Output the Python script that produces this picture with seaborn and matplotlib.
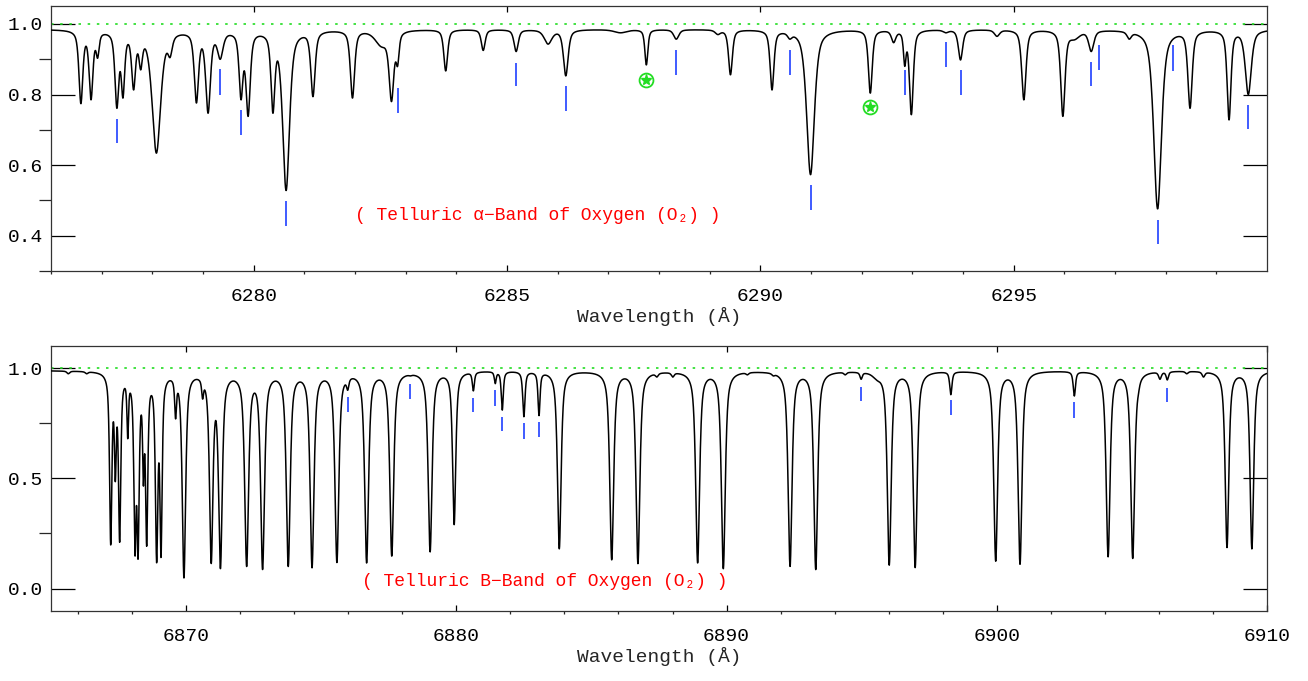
import numpy as np
import pandas as pd
import seaborn as sns
import matplotlib.pyplot as plt
from matplotlib.ticker import MultipleLocator

# ---- alpha band (top panel): absorption line centre (A), minimum flux, FWHM (A)
a_wave = [6276.59, 6276.79, 6276.92, 6277.15, 6277.30, 6277.42, 6277.63, 6277.77,
          6278.08, 6278.35, 6278.87, 6279.10, 6279.34, 6279.75, 6279.89, 6280.38,
          6280.64, 6281.17, 6281.95, 6282.52, 6282.72, 6282.84, 6283.79, 6284.53,
          6285.18, 6285.81, 6286.16, 6287.24, 6287.75, 6288.34, 6289.16, 6289.41,
          6290.23, 6290.58, 6290.99, 6292.17, 6292.63, 6292.85, 6292.98, 6293.66,
          6293.95, 6294.67, 6295.20, 6295.97, 6296.20, 6296.53, 6297.28, 6297.84,
          6298.15, 6298.48, 6299.25, 6299.63]
a_min = [0.774, 0.785, 0.903, 0.965, 0.761, 0.790, 0.813, 0.870,
         0.634, 0.905, 0.776, 0.747, 0.900, 0.785, 0.738, 0.747,
         0.528, 0.794, 0.790, 0.935, 0.780, 0.880, 0.867, 0.925,
         0.922, 0.943, 0.853, 0.975, 0.884, 0.957, 0.970, 0.856,
         0.813, 0.957, 0.573, 0.804, 0.947, 0.880, 0.743, 0.975,
         0.898, 0.965, 0.785, 0.738, 0.955, 0.922, 0.957, 0.476,
         0.970, 0.761, 0.728, 0.800]
a_fwhm = [0.09, 0.09, 0.07, 0.15, 0.09, 0.08, 0.09, 0.08,
          0.20, 0.10, 0.10, 0.11, 0.13, 0.09, 0.10, 0.09,
          0.16, 0.10, 0.10, 0.30, 0.11, 0.07, 0.09, 0.09,
          0.10, 0.18, 0.11, 0.30, 0.07, 0.12, 0.12, 0.09,
          0.09, 0.10, 0.18, 0.09, 0.10, 0.06, 0.09, 0.12,
          0.10, 0.12, 0.10, 0.10, 0.25, 0.12, 0.10, 0.18,
          0.07, 0.10, 0.09, 0.14]

# blue line markers (top panel): wavelength, upper and lower end
at_wave = [6277.30, 6279.34, 6279.75, 6280.64, 6282.84, 6285.18, 6286.16, 6288.34, 6290.58,
           6290.99, 6292.85, 6293.66, 6293.95, 6296.53, 6296.69, 6297.84, 6298.15, 6299.63]
at_hi = [0.731, 0.873, 0.757, 0.497, 0.818, 0.890, 0.823, 0.926, 0.926,
         0.543, 0.870, 0.948, 0.870, 0.892, 0.940, 0.445, 0.940, 0.771]
at_lo = [0.662, 0.800, 0.686, 0.428, 0.749, 0.823, 0.754, 0.856, 0.856,
         0.474, 0.800, 0.879, 0.800, 0.823, 0.870, 0.377, 0.868, 0.702]

# green circled stars (top panel)
star_wave = [6287.75, 6292.17]
star_flux = [0.840, 0.766]

# ---- B band (bottom panel)
b_wave = [6865.64, 6866.32, 6867.21, 6867.38, 6867.54, 6867.84, 6868.11, 6868.22,
          6868.42, 6868.54, 6868.91, 6869.07, 6869.61, 6869.92, 6870.61, 6870.93,
          6871.27, 6871.90, 6872.24, 6872.83, 6873.78, 6874.66, 6875.58, 6875.98,
          6876.44, 6876.68, 6877.61, 6878.30, 6879.03, 6879.92, 6880.63, 6881.44,
          6881.70, 6882.50, 6883.06, 6883.81, 6885.75, 6886.72, 6887.42, 6888.01,
          6888.93, 6889.88, 6890.77, 6891.73, 6892.35, 6893.30, 6894.39, 6894.98,
          6895.56, 6896.02, 6896.98, 6898.30, 6899.96, 6900.86, 6902.87, 6904.12,
          6905.03, 6905.24, 6906.04, 6906.31, 6907.03, 6907.65, 6908.52, 6909.44]
b_min = [0.975, 0.975, 0.197, 0.485, 0.210, 0.680, 0.147, 0.133,
         0.465, 0.192, 0.116, 0.140, 0.770, 0.048, 0.860, 0.113,
         0.090, 0.930, 0.100, 0.086, 0.100, 0.094, 0.118, 0.900,
         0.910, 0.116, 0.147, 0.965, 0.166, 0.290, 0.897, 0.930,
         0.810, 0.780, 0.785, 0.180, 0.130, 0.113, 0.960, 0.960,
         0.116, 0.090, 0.970, 0.965, 0.100, 0.086, 0.970, 0.950,
         0.945, 0.106, 0.095, 0.880, 0.124, 0.110, 0.874, 0.144,
         0.136, 0.880, 0.950, 0.947, 0.975, 0.960, 0.186, 0.180]
b_fwhm = [0.12, 0.12, 0.10, 0.08, 0.10, 0.07, 0.10, 0.10,
          0.07, 0.10, 0.11, 0.10, 0.08, 0.15, 0.08, 0.15,
          0.16, 0.15, 0.17, 0.17, 0.17, 0.17, 0.17, 0.10,
          0.12, 0.17, 0.17, 0.12, 0.17, 0.14, 0.09, 0.08,
          0.09, 0.10, 0.09, 0.16, 0.17, 0.17, 0.12, 0.12,
          0.17, 0.17, 0.12, 0.12, 0.17, 0.17, 0.12, 0.10,
          0.35, 0.17, 0.17, 0.10, 0.17, 0.17, 0.10, 0.17,
          0.17, 0.10, 0.12, 0.10, 0.12, 0.12, 0.16, 0.16]

bt_wave = [6876.00, 6878.30, 6880.63, 6881.44, 6881.70, 6882.50, 6883.06,
           6894.98, 6898.30, 6902.87, 6906.31]
bt_hi = [0.870, 0.930, 0.865, 0.900, 0.780, 0.750, 0.756, 0.916, 0.855, 0.845, 0.910]
bt_lo = [0.800, 0.860, 0.800, 0.830, 0.715, 0.680, 0.688, 0.850, 0.786, 0.775, 0.845]


def profile(x, c, fwhm, eta):
    hw = fwhm / 2.0
    u = (x - c) / hw
    return eta / (1 + u**2) + (1 - eta) * np.exp(-np.log(2) * u**2)


def spectrum(lo, hi, wave, fmin, fwhm, cont, eta):
    c = np.array(wave)
    m = np.array(fmin)
    w = np.array(fwhm)
    # profile of every line evaluated at every line centre
    pc = np.array([profile(c, c[j], w[j], eta) for j in range(len(c))]).T
    d = 1 - m / cont
    for _ in range(80):
        for i in range(len(c)):
            other = np.prod(np.delete(1 - d * pc[i], i))
            d[i] = np.clip(1 - m[i] / (cont * other), 0, 0.995)
    x = np.arange(lo, hi, 0.004)
    f = np.full_like(x, cont)
    for j in range(len(c)):
        f *= 1 - d[j] * profile(x, c[j], w[j], eta)
    return pd.DataFrame({'wave': x, 'flux': f})


assert len(a_wave) == len(a_min) == len(a_fwhm)
assert len(b_wave) == len(b_min) == len(b_fwhm)

top_df = spectrum(6276.0, 6300.0, a_wave, a_min, a_fwhm, 0.985, 0.6)
bot_df = spectrum(6865.0, 6910.0, b_wave, b_min, b_fwhm, 0.99, 0.7)

sns.set_style('ticks')
mono = ['Liberation Mono', 'DejaVu Sans Mono']
plt.rcParams['font.family'] = mono
plt.rcParams['axes.linewidth'] = 0.9

fig = plt.figure(figsize=(13.08, 6.81), dpi=100)
W, H = 1308, 681
ax1 = fig.add_axes([51 / W, 1 - 271 / H, 1216 / W, 265 / H])
ax2 = fig.add_axes([51 / W, 1 - 611 / H, 1216 / W, 265 / H])

for ax, df in [(ax1, top_df), (ax2, bot_df)]:
    ax.axhline(1.0, color='#22dd22', lw=1.2, ls=(0, (1.5, 4)), zorder=1)
    sns.lineplot(data=df, x='wave', y='flux', ax=ax, color='black', lw=1.1,
                 estimator=None, sort=False, zorder=3)

ax1.vlines(at_wave, at_lo, at_hi, color='#1f3fff', lw=1.2, zorder=4)
ax2.vlines(bt_wave, bt_lo, bt_hi, color='#1f3fff', lw=1.2, zorder=4)

ax1.plot(star_wave, star_flux, ls='none', marker='o', ms=10, mfc='none',
         mec='#22dd22', mew=1.3, zorder=5)
ax1.plot(star_wave, star_flux, ls='none', marker='*', ms=8, color='#22dd22',
         mec='#22dd22', zorder=5)

ax1.text(6282.0, 0.457, '( Telluric α−Band of Oxygen (O₂) )', color='red',
         va='center', ha='left', fontsize=13, family=mono)
ax2.text(6876.5, 0.03, '( Telluric B−Band of Oxygen (O₂) )', color='red',
         va='center', ha='left', fontsize=13, family=mono)

ax1.set_xlim(6276.0, 6299.999)
ax1.set_ylim(0.30, 1.051)
ax1.set_xticks([6280, 6285, 6290, 6295])
ax1.xaxis.set_minor_locator(MultipleLocator(1))
ax1.set_yticks([0.4, 0.6, 0.8, 1.0])
ax1.yaxis.set_minor_locator(MultipleLocator(0.1))

ax2.set_xlim(6865.0, 6910.0)
ax2.set_ylim(-0.102, 1.101)
ax2.set_xticks([6870, 6880, 6890, 6900, 6910])
ax2.xaxis.set_minor_locator(MultipleLocator(2))
ax2.set_yticks([0.0, 0.5, 1.0])
ax2.yaxis.set_minor_locator(MultipleLocator(0.25))

for ax in (ax1, ax2):
    ax.yaxis.set_major_formatter(plt.FormatStrFormatter('%.1f'))
    ax.tick_params(direction='in', top=True, right=True, labelsize=14, colors='black')
    ax.tick_params(axis='y', which='major', length=17, width=0.9, pad=6)
    ax.tick_params(axis='y', which='minor', length=8.5, width=0.9)
    ax.tick_params(axis='x', which='major', length=4.5, width=0.9, pad=12)
    ax.tick_params(axis='x', which='minor', length=2.5, width=0.9)
    ax.set_xlabel('Wavelength (Å)', fontsize=14, labelpad=2)
    ax.set_ylabel('')
    for s in ax.spines.values():
        s.set_color('#333333')

fig.savefig('out.png', dpi=100)
